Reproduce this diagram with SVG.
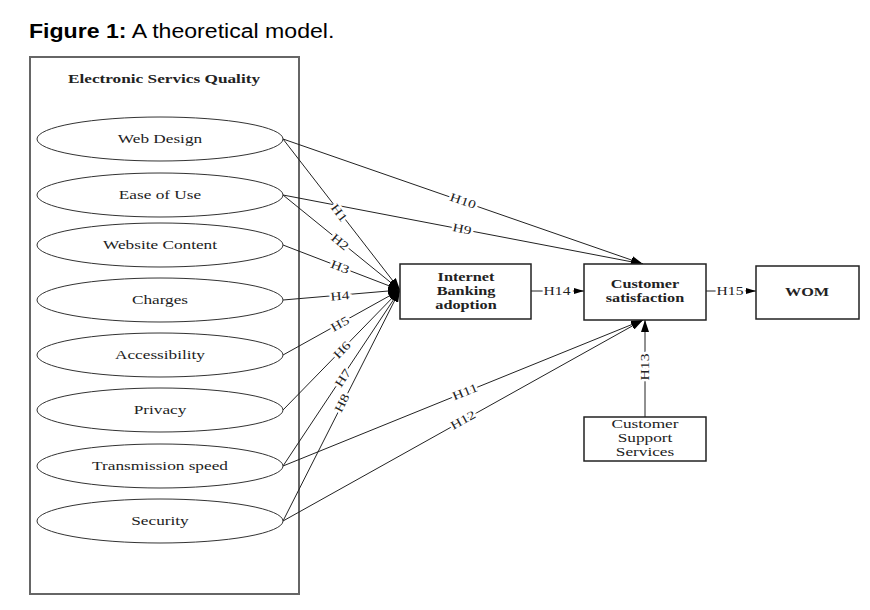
<svg xmlns="http://www.w3.org/2000/svg" width="870" height="610" viewBox="0 0 870 610">
<defs>
<marker id="ah" markerWidth="12" markerHeight="8" refX="12" refY="4" orient="auto" markerUnits="userSpaceOnUse">
<path d="M0,0 L12,4 L0,8 Z" fill="#000"/>
</marker>
<marker id="ahs" markerWidth="10" markerHeight="6" refX="10" refY="3" orient="auto" markerUnits="userSpaceOnUse">
<path d="M0,0 L10,3 L0,6 Z" fill="#000"/>
</marker>
<style>
.title{font-family:"Liberation Sans",Arial,sans-serif;font-size:21px;fill:#000}
.serif{font-family:"Liberation Serif","Times New Roman",serif;fill:#222}
.ell{fill:#fff;stroke:#333;stroke-width:1}
.box{fill:#fff;stroke:#222;stroke-width:1.5}
.ln{stroke:#222;stroke-width:1;fill:none}
.lbl{font-family:"Liberation Serif","Times New Roman",serif;font-size:12px;fill:#222;text-anchor:middle;dominant-baseline:central;stroke:#fff;stroke-width:4;paint-order:stroke}
.nt{font-size:12.5px;text-anchor:middle}
.bt{font-size:12.5px;font-weight:bold;text-anchor:middle}
</style>
</defs>
<rect width="870" height="610" fill="#fff"/>
<text class="title" transform="translate(29,38) scale(1.1,1)"><tspan font-weight="bold">Figure 1:</tspan> A theoretical model.</text>

<g id="esq">
<rect x="30" y="57" width="269" height="537" fill="none" stroke="#666" stroke-width="2"/>
<text class="serif bt" transform="translate(164,83) scale(1.38,1)">Electronic Servics Quality</text>
</g>

<g id="connectors">
<line class="ln" x1="283" y1="139" x2="643" y2="264" marker-end="url(#ah)"/>
<line class="ln" x1="283" y1="195" x2="643" y2="264" marker-end="url(#ah)"/>
<line class="ln" x1="283" y1="139" x2="400" y2="290" marker-end="url(#ah)"/>
<line class="ln" x1="283" y1="195" x2="400" y2="290" marker-end="url(#ah)"/>
<line class="ln" x1="283" y1="245" x2="400" y2="290" marker-end="url(#ah)"/>
<line class="ln" x1="283" y1="300" x2="400" y2="290" marker-end="url(#ah)"/>
<line class="ln" x1="283" y1="355" x2="400" y2="290" marker-end="url(#ah)"/>
<line class="ln" x1="283" y1="410" x2="400" y2="290" marker-end="url(#ah)"/>
<line class="ln" x1="283" y1="466" x2="400" y2="290" marker-end="url(#ah)"/>
<line class="ln" x1="283" y1="521" x2="400" y2="290" marker-end="url(#ah)"/>
<line class="ln" x1="283" y1="466" x2="643" y2="320" marker-end="url(#ah)"/>
<line class="ln" x1="283" y1="521" x2="643" y2="320" marker-end="url(#ah)"/>
<line class="ln" x1="645" y1="417" x2="645" y2="320" marker-end="url(#ah)"/>
<line class="ln" x1="531" y1="291" x2="584" y2="291" marker-end="url(#ahs)"/>
<line class="ln" x1="706" y1="291" x2="756" y2="291" marker-end="url(#ahs)"/>
<text class="lbl" transform="translate(463,201) rotate(19) scale(1.3,1)">H10</text>
<text class="lbl" transform="translate(462,229) rotate(10.7) scale(1.3,1)">H9</text>
<text class="lbl" transform="translate(339,213) rotate(52.7) scale(1.3,1)">H1</text>
<text class="lbl" transform="translate(340,242) rotate(39.6) scale(1.3,1)">H2</text>
<text class="lbl" transform="translate(340,267) rotate(21) scale(1.3,1)">H3</text>
<text class="lbl" transform="translate(340,296) rotate(-5) scale(1.3,1)">H4</text>
<text class="lbl" transform="translate(340,324) rotate(-29.5) scale(1.3,1)">H5</text>
<text class="lbl" transform="translate(342,350) rotate(-46) scale(1.3,1)">H6</text>
<text class="lbl" transform="translate(343,378) rotate(-57) scale(1.3,1)">H7</text>
<text class="lbl" transform="translate(342,403) rotate(-63.5) scale(1.3,1)">H8</text>
<text class="lbl" transform="translate(465,392) rotate(-22) scale(1.3,1)">H11</text>
<text class="lbl" transform="translate(463,420) rotate(-29) scale(1.3,1)">H12</text>
<text class="lbl" transform="translate(645,367) rotate(-90) scale(1.3,1)">H13</text>
<text class="lbl" transform="translate(557,291) scale(1.3,1)">H14</text>
<text class="lbl" transform="translate(730,291) scale(1.3,1)">H15</text>
</g>

<g id="web-design"><ellipse class="ell" cx="160" cy="139" rx="123" ry="22"/><text class="serif nt" transform="translate(160,143) scale(1.38,1)">Web Design</text></g>
<g id="ease-of-use"><ellipse class="ell" cx="160" cy="195" rx="123" ry="22"/><text class="serif nt" transform="translate(160,199) scale(1.38,1)">Ease of Use</text></g>
<g id="website-content"><ellipse class="ell" cx="160" cy="245" rx="123" ry="22"/><text class="serif nt" transform="translate(160,249) scale(1.38,1)">Website Content</text></g>
<g id="charges"><ellipse class="ell" cx="160" cy="300" rx="123" ry="22"/><text class="serif nt" transform="translate(160,304) scale(1.38,1)">Charges</text></g>
<g id="accessibility"><ellipse class="ell" cx="160" cy="355" rx="123" ry="22"/><text class="serif nt" transform="translate(160,359) scale(1.38,1)">Accessibility</text></g>
<g id="privacy"><ellipse class="ell" cx="160" cy="410" rx="123" ry="22"/><text class="serif nt" transform="translate(160,414) scale(1.38,1)">Privacy</text></g>
<g id="transmission-speed"><ellipse class="ell" cx="160" cy="466" rx="123" ry="22"/><text class="serif nt" transform="translate(160,470) scale(1.38,1)">Transmission speed</text></g>
<g id="security"><ellipse class="ell" cx="160" cy="521" rx="123" ry="22"/><text class="serif nt" transform="translate(160,525) scale(1.38,1)">Security</text></g>

<g id="internet-banking-adoption">
<rect class="box" x="400" y="264" width="131" height="55"/>
<text class="serif bt" transform="translate(466,281) scale(1.3,1)">Internet</text>
<text class="serif bt" transform="translate(466,295) scale(1.3,1)">Banking</text>
<text class="serif bt" transform="translate(466,309) scale(1.3,1)">adoption</text>
</g>
<g id="customer-satisfaction">
<rect class="box" x="584" y="264" width="122" height="56"/>
<text class="serif bt" transform="translate(645,288) scale(1.3,1)">Customer</text>
<text class="serif bt" transform="translate(645,302) scale(1.3,1)">satisfaction</text>
</g>
<g id="wom">
<rect class="box" x="756" y="266" width="103" height="53"/>
<text class="serif bt" transform="translate(807,296) scale(1.3,1)">WOM</text>
</g>
<g id="customer-support-services">
<rect class="box" x="584" y="417" width="122" height="44"/>
<text class="serif nt" transform="translate(645,428) scale(1.38,1)">Customer</text>
<text class="serif nt" transform="translate(645,442) scale(1.38,1)">Support</text>
<text class="serif nt" transform="translate(645,456) scale(1.38,1)">Services</text>
</g>
</svg>
